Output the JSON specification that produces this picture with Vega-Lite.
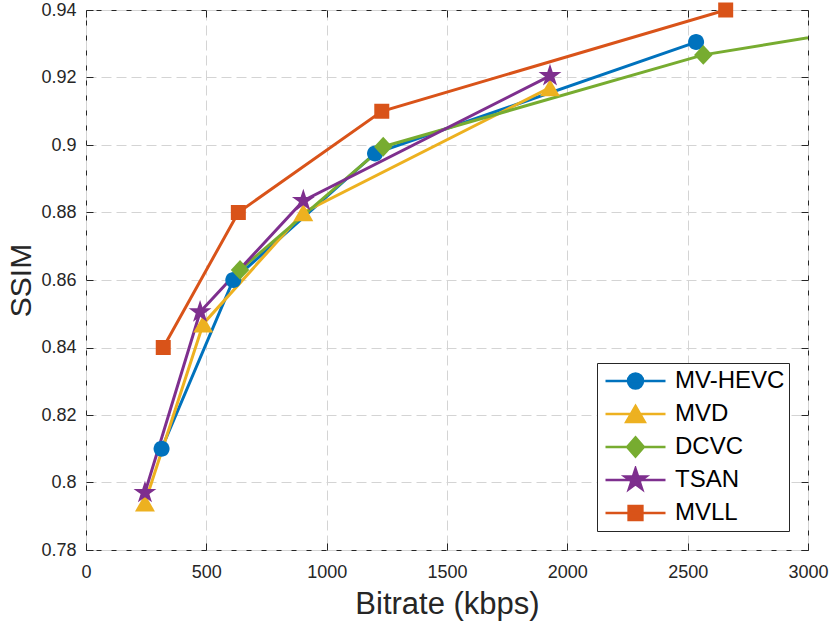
{
  "$schema": "https://vega.github.io/schema/vega-lite/v6.json",
  "width": 722,
  "height": 540,
  "autosize": {"type": "none"},
  "padding": {"left": 86, "top": 10, "right": 22, "bottom": 78},
  "background": "white",
  "config": {
    "font": "Liberation Sans",
    "view": {"stroke": "#262626", "strokeWidth": 1},
    "legend": {
      "title": null,
      "orient": "bottom-right",
      "offset": 19,
      "padding": 4,
      "fillColor": "white",
      "strokeColor": "#262626",
      "cornerRadius": 0,
      "labelFontSize": 24,
      "labelColor": "black",
      "labelOffset": 8,
      "symbolOffset": 3,
      "symbolSize": 3600,
      "symbolStrokeWidth": 2.5,
      "clipHeight": 28,
      "rowPadding": 5
    }
  },
  "data": {
    "values": [
      {"method": "MV-HEVC", "bitrate": 314, "ssim": 0.810},
      {"method": "MV-HEVC", "bitrate": 612, "ssim": 0.860},
      {"method": "MV-HEVC", "bitrate": 1201, "ssim": 0.8975},
      {"method": "MV-HEVC", "bitrate": 2535, "ssim": 0.9305},
      {"method": "MVD", "bitrate": 245, "ssim": 0.794},
      {"method": "MVD", "bitrate": 487, "ssim": 0.847},
      {"method": "MVD", "bitrate": 903, "ssim": 0.880},
      {"method": "MVD", "bitrate": 1928, "ssim": 0.917},
      {"method": "DCVC", "bitrate": 640, "ssim": 0.863},
      {"method": "DCVC", "bitrate": 1235, "ssim": 0.8995},
      {"method": "DCVC", "bitrate": 2565, "ssim": 0.9267},
      {"method": "DCVC", "bitrate": 3300, "ssim": 0.9353},
      {"method": "TSAN", "bitrate": 245, "ssim": 0.797},
      {"method": "TSAN", "bitrate": 474, "ssim": 0.8505},
      {"method": "TSAN", "bitrate": 903, "ssim": 0.8835},
      {"method": "TSAN", "bitrate": 1928, "ssim": 0.9205},
      {"method": "MVLL", "bitrate": 321, "ssim": 0.840},
      {"method": "MVLL", "bitrate": 633, "ssim": 0.880},
      {"method": "MVLL", "bitrate": 1229, "ssim": 0.910},
      {"method": "MVLL", "bitrate": 2658, "ssim": 0.940}
    ]
  },
  "resolve": {"axis": {"x": "independent", "y": "independent"}},
  "layer": [
    {
      "mark": {"type": "line", "strokeWidth": 3, "clip": true},
      "encoding": {
        "x": {
          "field": "bitrate", "type": "quantitative",
          "scale": {"domain": [0, 3000], "nice": false, "zero": false},
          "axis": {
            "orient": "bottom",
            "values": [0, 500, 1000, 1500, 2000, 2500, 3000],
            "format": "d",
            "grid": true, "gridDash": [10, 5], "gridColor": "#d4d4d4", "gridWidth": 1,
            "domain": false,
            "tickSize": -7, "tickColor": "#262626", "tickWidth": 1,
            "labelFontSize": 18, "labelColor": "#262626", "labelPadding": 20,
            "labelFlush": false,
            "title": "Bitrate (kbps)", "titleFontSize": 31, "titleFontWeight": "normal",
            "titleColor": "#262626", "titlePadding": 8
          }
        },
        "y": {
          "field": "ssim", "type": "quantitative",
          "scale": {"domain": [0.78, 0.94], "nice": false, "zero": false},
          "axis": {
            "orient": "left",
            "values": [0.78, 0.8, 0.82, 0.84, 0.86, 0.88, 0.9, 0.92, 0.94],
            "format": "~g",
            "grid": true, "gridDash": [10, 5], "gridColor": "#d4d4d4", "gridWidth": 1,
            "domain": false,
            "tickSize": -7, "tickColor": "#262626", "tickWidth": 1,
            "labelFontSize": 18, "labelColor": "#262626", "labelPadding": 17,
            "labelFlush": false,
            "title": "SSIM", "titleFontSize": 30, "titleFontWeight": "normal",
            "titleColor": "#262626", "titlePadding": 4
          }
        },
        "color": {
          "field": "method", "type": "nominal",
          "scale": {
            "domain": ["MV-HEVC", "MVD", "DCVC", "TSAN", "MVLL"],
            "range": ["#0072BD", "#EDB120", "#77AC30", "#7E2F8E", "#D95319"]
          }
        }
      }
    },
    {
      "transform": [{"filter": "datum.bitrate <= 3000"}],
      "mark": {"type": "point", "filled": true, "opacity": 1, "size": 576},
      "encoding": {
        "x": {
          "field": "bitrate", "type": "quantitative",
          "axis": {
            "orient": "top", "labels": false, "grid": false, "domain": false,
            "values": [0, 500, 1000, 1500, 2000, 2500, 3000],
            "tickSize": -7, "tickColor": "#262626", "title": null
          }
        },
        "y": {
          "field": "ssim", "type": "quantitative",
          "axis": {
            "orient": "right", "labels": false, "grid": false, "domain": false,
            "values": [0.78, 0.8, 0.82, 0.84, 0.86, 0.88, 0.9, 0.92, 0.94],
            "tickSize": -7, "tickColor": "#262626", "title": null
          }
        },
        "color": {
          "field": "method", "type": "nominal",
          "scale": {
            "domain": ["MV-HEVC", "MVD", "DCVC", "TSAN", "MVLL"],
            "range": ["#0072BD", "#EDB120", "#77AC30", "#7E2F8E", "#D95319"]
          },
          "legend": {
            "encoding": {
              "symbols": {
                "shape": {"value": {"expr": "datum.value === 'MV-HEVC' ? 'M-1,0L1,0M0.25,0A0.25,0.25,0,1,1,-0.25,0A0.25,0.25,0,1,1,0.25,0Z' : datum.value === 'MVD' ? 'M-1,0L1,0M0,-0.27L0.31,0.27L-0.31,0.27Z' : datum.value === 'DCVC' ? 'M-1,0L1,0M0,-0.32L0.28,0L0,0.32L-0.28,0Z' : datum.value === 'TSAN' ? 'M-1,0L1,0M0,-0.38L0.085,-0.117L0.361,-0.117L0.138,0.045L0.223,0.307L0,0.145L-0.223,0.307L-0.138,0.045L-0.361,-0.117L-0.085,-0.117Z' : 'M-1,0L1,0M-0.23,-0.23L0.23,-0.23L0.23,0.23L-0.23,0.23Z'"}},
                "fill": {"value": {"expr": "scale('color', datum.value)"}},
                "stroke": {"value": {"expr": "scale('color', datum.value)"}},
                "strokeWidth": {"value": 2.5},
                "opacity": {"value": 1},
                "fillOpacity": {"value": 1},
                "strokeOpacity": {"value": 1}
              }
            }
          }
        },
        "shape": {
          "field": "method", "type": "nominal",
          "scale": {
            "domain": ["DCVC", "MV-HEVC", "MVD", "MVLL", "TSAN"],
            "range": [
              "M0,-0.83L0.77,0L0,0.83L-0.77,0Z",
              "M0.667,0A0.667,0.667,0,1,1,-0.667,0A0.667,0.667,0,1,1,0.667,0Z",
              "M0,-0.72L0.83,0.72L-0.83,0.72Z",
              "M-0.625,-0.625L0.625,-0.625L0.625,0.625L-0.625,0.625Z",
              "M0,-1L0.2245,-0.309L0.951,-0.309L0.363,0.118L0.588,0.809L0,0.382L-0.588,0.809L-0.363,0.118L-0.951,-0.309L-0.2245,-0.309Z"
            ]
          },
          "legend": null
        }
      }
    }
  ]
}
